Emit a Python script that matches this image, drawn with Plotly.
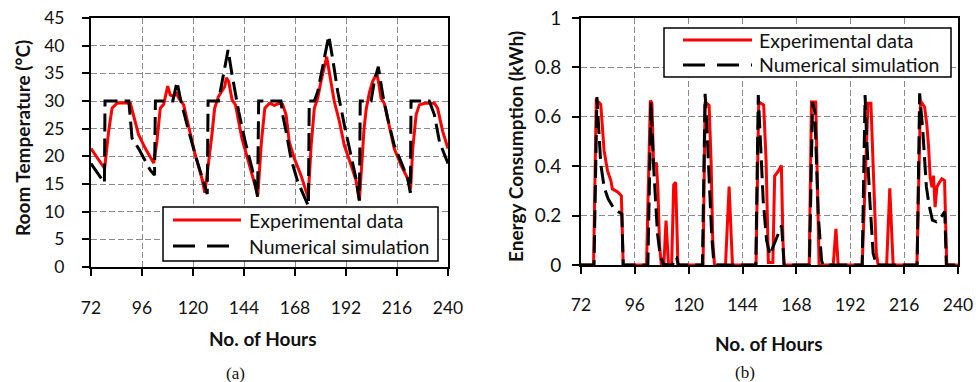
import plotly.graph_objects as go

# ---------------- data (a): room temperature ----------------
exp_temp_hours = [72, 75, 78.4, 80.3, 81.9, 84.2, 87, 90.5, 92, 94.4, 97.6, 101.5, 103, 104.6, 106.2,
                  108.1, 109.3, 110.9, 112, 113.3, 115.6, 118, 121.1, 124.2, 125.6, 128.9, 130.2, 132,
                  133.6, 134.9, 135.7, 136.8, 138.4, 140, 143, 146.2, 149.3, 150.5, 152.2, 153.8, 156,
                  158.3, 160.6, 162.2, 163.8, 165.3, 167.7, 170.8, 174.2, 175.6, 177.1, 178.7, 180.2,
                  181.8, 182.9, 184.9, 186.5, 188.9, 191.2, 194.4, 196.7, 198.3, 199.5, 200.5, 201.5,
                  203, 204.5, 206.5, 207.5, 208.5, 210, 212.4, 214.7, 217.9, 221, 222.4, 223.4, 225,
                  226.5, 229, 233.6, 235.1, 237.5, 240]
exp_temp = [21.4, 19.8, 17.8, 24.5, 28.7, 29.6, 29.7, 29.6, 27.5, 23.9, 21.4, 18.8, 22.6, 28.7, 29.4,
            32.7, 31.1, 30.8, 31.6, 30.5, 29.3, 25.1, 20.2, 16.0, 13.4, 23.9, 28.7, 30.8,
            31.7, 32.6, 34.2, 33.5, 30.2, 29.3, 23.3, 19.0, 14.8, 13.0, 22.6, 28.7, 29.6,
            29.2, 29.6, 29.4, 27.5, 22.6, 19.6, 16.6, 12.5, 22.0, 28.7, 30.5, 33.5,
            36.5, 38.0, 33.5, 29.9, 26.3, 22.0, 18.4, 15.7, 12.0, 20.0, 25.0, 28.5,
            31.5, 33.5, 35.0, 33.0, 30.5, 29.6, 25.7, 21.4, 18.4, 16.0, 14.0, 21.4, 27.5,
            29.3, 29.6, 29.6, 28.7, 24.5, 21.4]

sim_temp_hours = [72, 78.3, 78.6, 89.8, 91.3, 94.4, 99.9, 101.9, 102.3, 110.5, 112.5, 114, 117.2,
                  121.1, 126.7, 127.1, 132, 136.5, 138.4, 141.5, 144.6, 147.8, 150.4, 150.9, 161.4,
                  162.2, 163.8, 166.1, 169.3, 174.3, 174.7, 177.1, 178.7, 181, 183.9, 185.7, 188.1,
                  191.2, 194.4, 196.7, 198.3, 198.7, 203.8, 205.3, 207.2, 209.3, 211.6, 214.7, 217.9,
                  221, 222.3, 222.6, 231.2, 233.6, 236, 240]
sim_temp = [18.7, 15.2, 30, 30, 23.3, 21.4, 17.5, 16.6, 30, 30, 33.5, 30.5, 25.7,
            20.2, 13.2, 30, 30, 39.2, 34.7, 28.1, 22.6, 17.8, 12.7, 30, 30,
            27.5, 24.5, 19.6, 15.4, 11.0, 30, 30, 31.7, 36.5, 41.8, 37.7, 31.7,
            25.7, 20.2, 16.0, 12.0, 30, 30, 33.5, 36.2, 31.1, 26.9, 22.0, 19.0,
            16.0, 13.4, 30, 30, 27.5, 22.6, 18.7]

# ---------------- data (b): energy consumption ----------------
exp_energy_hours = [72, 77.6, 78.8, 79.8, 80.8, 81.5, 82.3, 83.8, 85.3, 86, 88.5, 90, 90.8,
                    101.2, 102.9, 103.6, 104.3, 104.8, 105.6, 106.3, 107, 107.8, 108.9, 109.9, 111,
                    112.4, 113.3, 114.2, 115.2, 126.4, 127.3, 129.1, 130, 130.7, 131.5, 136.4, 138,
                    139.5, 150, 151.2, 153.4, 154.5, 155.5, 157.5, 158.3, 159.9, 161.3, 162, 162.5,
                    173.7, 174.7, 176.6, 178.1, 184.4, 185.6, 186.6, 197.3, 199.9, 201.2, 202.2,
                    203.6, 204.4, 208.2, 209.6, 211.1, 221.7, 223.3, 225.1, 226.1, 226.9, 227.6,
                    228.4, 229.1, 229.8, 230.6, 231.3, 232.8, 234, 235, 240]
exp_energy = [0, 0, 0.665, 0.66, 0.65, 0.545, 0.463, 0.382, 0.342, 0.308, 0.295, 0.28, 0,
              0, 0.666, 0.655, 0.42, 0.40, 0.415, 0.30, 0.08, 0, 0, 0.18, 0,
              0, 0.325, 0.335, 0, 0, 0.66, 0.646, 0.41, 0.10, 0, 0, 0.318,
              0, 0, 0.66, 0.648, 0.42, 0.01, 0.01, 0.36, 0.38, 0.403, 0.10, 0,
              0, 0.66, 0.66, 0, 0, 0.146, 0, 0, 0.655, 0.655, 0.40,
              0.05, 0, 0, 0.31, 0, 0, 0.665, 0.64, 0.57, 0.477, 0.355,
              0.315, 0.362, 0.234, 0.315, 0.328, 0.349, 0.342, 0, 0]

sim_energy_hours = [72, 77.8, 79.1, 79.9, 80.3, 80.8, 82.3, 84.1, 86.3, 87.8, 90.2, 90.8,
                    101.8, 103.2, 104.2, 105.2, 106.1, 107.2, 108.7, 111, 112.8, 113.6, 114.6, 115.4,
                    126.1, 127.3, 128, 128.8, 129.5, 130.3, 131, 131.8, 132.5,
                    149.9, 151, 151.7, 153.2, 154.7, 156.2, 157.6, 159.9, 161.4, 162.5,
                    173.8, 175.2, 176.2, 177.7, 179.2, 179.9,
                    197.3, 198.6, 199.2, 200.7, 202.2, 203.6,
                    221.8, 222.9, 224.4, 225.9, 227.1, 228.6, 230.4, 232.6, 234.1, 234.8, 240]
sim_energy = [0, 0, 0.68, 0.545, 0.47, 0.41, 0.315, 0.268, 0.234, 0.22, 0.207, 0,
              0, 0.66, 0.423, 0.234, 0.126, 0.045, 0.004, 0, 0, 0.03, 0.03, 0,
              0, 0.693, 0.585, 0.41, 0.234, 0.112, 0.031, 0.007, 0,
              0, 0.688, 0.53, 0.26, 0.10, 0.04, 0.074, 0.128, 0.16, 0,
              0, 0.66, 0.62, 0.207, 0.018, 0,
              0, 0.688, 0.533, 0.263, 0.047, 0,
              0, 0.695, 0.533, 0.317, 0.243, 0.182, 0.175, 0.196, 0.216, 0, 0]

hour_ticks = [72, 96, 120, 144, 168, 192, 216, 240]
series_names = ["Experimental data", "Numerical simulation"]
axis_titles = ["No. of Hours", "Room Temperature (°C)", "Energy Consumption (kWh)"]
panel_labels = ["(a)", "(b)"]

# ---------------- styling ----------------
W, H = 976, 382
FONT = "Lato"
RED = "#ff0000"
BLACK = "#000000"
GRID = "#8a8a8a"
SIM_DASH = "18px,7px"


def px(x):
    return x / W


def py(y):
    return 1 - y / H


fig = go.Figure()
fig.add_trace(go.Scatter(x=exp_temp_hours, y=exp_temp, mode="lines", name=series_names[0],
                         line=dict(color=RED, width=3), xaxis="x", yaxis="y", showlegend=False))
fig.add_trace(go.Scatter(x=sim_temp_hours, y=sim_temp, mode="lines", name=series_names[1],
                         line=dict(color=BLACK, width=3, dash=SIM_DASH), xaxis="x", yaxis="y",
                         showlegend=False))
fig.add_trace(go.Scatter(x=exp_energy_hours, y=exp_energy, mode="lines", name=series_names[0],
                         line=dict(color=RED, width=3), xaxis="x2", yaxis="y2", showlegend=False))
fig.add_trace(go.Scatter(x=sim_energy_hours, y=sim_energy, mode="lines", name=series_names[1],
                         line=dict(color=BLACK, width=3, dash=SIM_DASH), xaxis="x2", yaxis="y2",
                         showlegend=False))

common_axis = dict(showline=True, linecolor=BLACK, linewidth=2, mirror=True,
                   ticks="outside", ticklen=7, tickwidth=1.5, tickcolor=BLACK,
                   showgrid=True, gridcolor=GRID, gridwidth=1, griddash="6px,3px",
                   zeroline=False, automargin=False, ticklabeloverflow="allow",
                   tickfont=dict(family=FONT, size=17.5, color="#111"))

fig.update_layout(
    width=W, height=H, margin=dict(l=0, r=0, t=0, b=0, autoexpand=False),
    paper_bgcolor="white", plot_bgcolor="white", showlegend=False,
    xaxis=dict(common_axis, domain=[px(91), px(448)], range=[72, 240], tickvals=hour_ticks,
               anchor="y", ticklabelstandoff=17),
    yaxis=dict(common_axis, domain=[py(267), py(18)], range=[0, 45], dtick=5, anchor="x",
               ticklabelstandoff=14),
    xaxis2=dict(common_axis, domain=[px(581), px(958)], range=[72, 240], tickvals=hour_ticks,
                anchor="y2", ticklabelstandoff=16),
    yaxis2=dict(common_axis, domain=[py(265), py(18)], range=[0, 1], dtick=0.2, anchor="x2",
                ticklabelstandoff=7, tickfont=dict(family=FONT, size=19, color="#111")),
)

# ---------------- legends (boxed, drawn above the plot) ----------------
shapes = []
annotations = []


def legend_box(x0, x1, y0, y1, sx0, sx1, tx, ty_exp, ty_sim, ly_exp, ly_sim):
    shapes.append(dict(type="rect", xref="paper", yref="paper", x0=px(x0), x1=px(x1),
                       y0=py(y1), y1=py(y0), line=dict(color=BLACK, width=1.5),
                       fillcolor="white", layer="above"))
    shapes.append(dict(type="line", xref="paper", yref="paper", x0=px(sx0), x1=px(sx1),
                       y0=py(ly_exp), y1=py(ly_exp), line=dict(color=RED, width=3), layer="above"))
    shapes.append(dict(type="line", xref="paper", yref="paper", x0=px(sx0), x1=px(sx1),
                       y0=py(ly_sim), y1=py(ly_sim),
                       line=dict(color=BLACK, width=3, dash="22px,12px"), layer="above"))
    for name, ty in zip(series_names, [ty_exp, ty_sim]):
        annotations.append(dict(text=name, xref="paper", yref="paper", x=px(tx), y=py(ty),
                                xanchor="left", yanchor="middle", showarrow=False,
                                font=dict(family=FONT, size=19.5, color="#111")))


legend_box(163, 438, 207, 261, 173, 241, 247, 220, 246.5, 220, 246)
legend_box(664, 951, 28, 77, 683, 752, 757, 40.5, 64.5, 40, 65)


def text_at(text, x, y, size, family=FONT, angle=0):
    annotations.append(dict(text=text, xref="paper", yref="paper", x=px(x), y=py(y),
                            xanchor="center", yanchor="middle", showarrow=False, textangle=angle,
                            font=dict(family=family, size=size, color="#111")))


# axis titles
text_at("<b>" + axis_titles[0] + "</b>", 263, 338, 19)
text_at("<b>" + axis_titles[0] + "</b>", 769, 343, 19)
text_at("<b>" + axis_titles[1] + "</b>", 22, 138, 19, angle=-90)
text_at("<b>" + axis_titles[2] + "</b>", 515, 147, 19, angle=-90)
# panel labels
text_at(panel_labels[0], 235, 373, 17, family="Liberation Serif")
text_at(panel_labels[1], 745, 372, 17, family="Liberation Serif")

fig.update_layout(shapes=shapes, annotations=annotations)

# the page body has a default 8px margin; drop it so the 976x382 figure fills the window
fig.write_html("out.html",
               config={"displayModeBar": False},
               post_script="document.body.style.margin='0';document.body.style.overflow='hidden';")
